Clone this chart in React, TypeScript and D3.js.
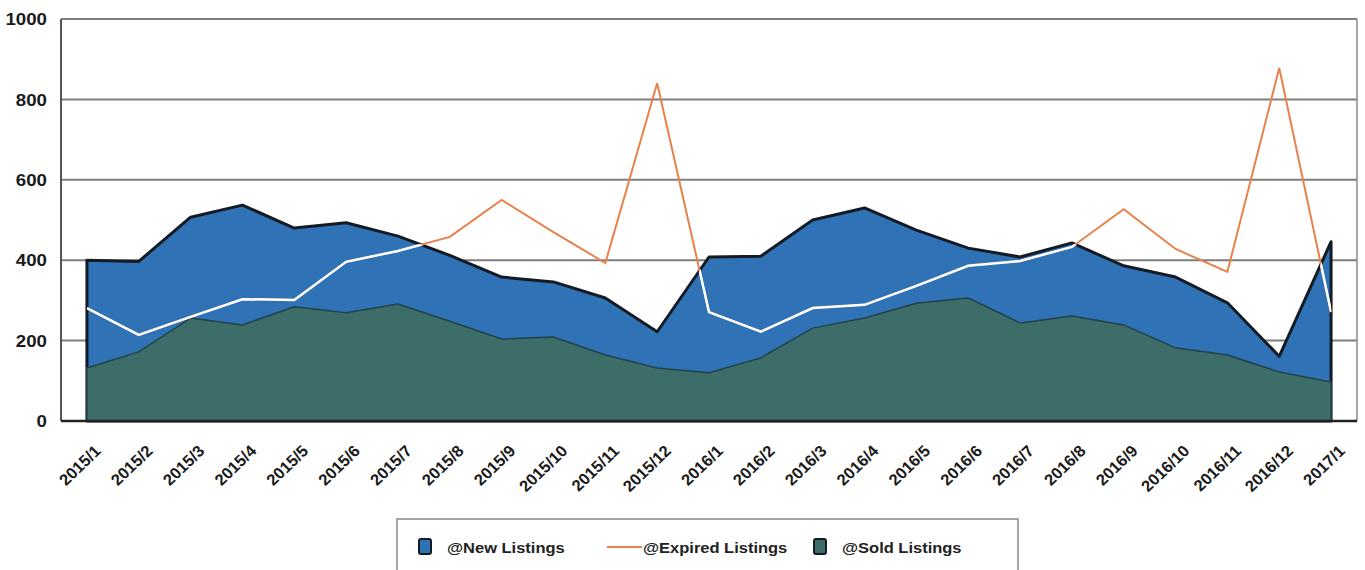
import React, { useEffect, useRef } from 'react';
import * as d3 from 'd3';

const categories = [
  '2015/1', '2015/2', '2015/3', '2015/4', '2015/5', '2015/6', '2015/7', '2015/8', '2015/9',
  '2015/10', '2015/11', '2015/12', '2016/1', '2016/2', '2016/3', '2016/4', '2016/5', '2016/6',
  '2016/7', '2016/8', '2016/9', '2016/10', '2016/11', '2016/12', '2017/1',
];
const newListings = [400, 397, 507, 537, 480, 493, 460, 412, 358, 346, 306, 222, 408, 410, 500, 530, 475, 430, 408, 443, 386, 358, 294, 161, 446];
const soldListings = [132, 172, 256, 239, 284, 269, 291, 248, 204, 209, 164, 132, 120, 157, 231, 256, 293, 306, 244, 261, 239, 182, 164, 122, 97];
const expiredListings = [281, 214, 259, 303, 301, 396, 423, 458, 550, 470, 393, 840, 271, 222, 281, 289, 336, 386, 398, 433, 527, 428, 371, 878, 271];
const yTicks = [0, 200, 400, 600, 800, 1000];

const FONT = '"Liberation Sans", Arial, sans-serif';
const BLUE = '#2f73b6';
const GREEN = '#3c6d69';
const ORANGE = '#e8814b';
const DARK = '#151b24';

const App: React.FC = () => {
  const svgRef = useRef<SVGSVGElement | null>(null);

  useEffect(() => {
    const svg = d3.select(svgRef.current);
    svg.selectAll('*').remove();

    const left = 61, right = 1357, top = 19, bottom = 421;

    const x = d3.scaleBand<string>().domain(categories).range([left, right]).padding(0);
    const cx = (i: number) => (x(categories[i]) as number) + x.bandwidth() / 2;
    const y = d3.scaleLinear().domain([0, 1000]).range([bottom, top]);

    // gridlines
    svg.append('g')
      .selectAll('line')
      .data(yTicks.filter(t => t > 0))
      .enter()
      .append('line')
      .attr('x1', left)
      .attr('x2', right)
      .attr('y1', d => y(d))
      .attr('y2', d => y(d))
      .attr('stroke', '#7d7f7e')
      .attr('stroke-width', 2);

    // right border
    svg.append('line')
      .attr('x1', right).attr('x2', right)
      .attr('y1', top).attr('y2', bottom)
      .attr('stroke', '#8a8a8a').attr('stroke-width', 1.5);

    const newArea = d3.area<number>()
      .x((_, i) => cx(i))
      .y0(y(0))
      .y1(d => y(d));

    const soldArea = d3.area<number>()
      .x((_, i) => cx(i))
      .y0(y(0))
      .y1(d => y(d));

    svg.append('defs')
      .append('clipPath')
      .attr('id', 'new-clip')
      .append('path')
      .attr('d', newArea(newListings) as string);

    svg.append('path')
      .attr('d', newArea(newListings) as string)
      .attr('fill', BLUE)
      .attr('stroke', DARK)
      .attr('stroke-width', 3)
      .attr('stroke-linejoin', 'round');

    svg.append('path')
      .attr('d', soldArea(soldListings) as string)
      .attr('fill', GREEN)
      .attr('stroke', '#24424a')
      .attr('stroke-width', 1.5)
      .attr('stroke-linejoin', 'round');

    const line = d3.line<number>()
      .x((_, i) => cx(i))
      .y(d => y(d));

    svg.append('path')
      .attr('d', line(expiredListings) as string)
      .attr('fill', 'none')
      .attr('stroke', ORANGE)
      .attr('stroke-width', 2);

    // the line shows white where it runs over the blue area
    svg.append('path')
      .attr('d', line(expiredListings) as string)
      .attr('clip-path', 'url(#new-clip)')
      .attr('fill', 'none')
      .attr('stroke', '#ffffff')
      .attr('stroke-width', 2.5);

    // axes
    svg.append('line')
      .attr('x1', left).attr('x2', left)
      .attr('y1', top).attr('y2', bottom)
      .attr('stroke', '#555').attr('stroke-width', 2);
    svg.append('line')
      .attr('x1', left).attr('x2', right)
      .attr('y1', bottom).attr('y2', bottom)
      .attr('stroke', '#222').attr('stroke-width', 2.5);

    svg.append('g')
      .selectAll('text')
      .data(yTicks)
      .enter()
      .append('text')
      .attr('transform', d => `translate(47,${y(d)}) scale(1.1,1)`)
      .attr('dy', '0.36em')
      .attr('text-anchor', 'end')
      .attr('font-family', FONT)
      .attr('font-weight', 'bold')
      .attr('font-size', 17)
      .attr('fill', '#1a1a1a')
      .text(d => d);

    svg.append('g')
      .selectAll('text')
      .data(categories)
      .enter()
      .append('text')
      .attr('transform', (_, i) => `translate(${cx(i) + 15},${bottom + 31}) scale(1.04,1) rotate(-45)`)
      .attr('text-anchor', 'end')
      .attr('font-family', FONT)
      .attr('font-weight', 'bold')
      .attr('font-size', 16)
      .attr('fill', '#1a1a1a')
      .text(d => d);

    // legend
    const lg = svg.append('g');
    lg.append('rect')
      .attr('x', 397).attr('y', 519)
      .attr('width', 621).attr('height', 70)
      .attr('fill', '#fff')
      .attr('stroke', '#8a8a8a')
      .attr('stroke-width', 1.5);

    const legendText = (xPos: number, label: string) =>
      lg.append('text')
        .attr('transform', `translate(${xPos},553) scale(1.1,1)`)
        .attr('font-family', FONT)
        .attr('font-weight', 'bold')
        .attr('font-size', 15)
        .attr('fill', '#222')
        .text(label);

    lg.append('rect')
      .attr('x', 419).attr('y', 539).attr('width', 12).attr('height', 15).attr('rx', 2)
      .attr('fill', BLUE).attr('stroke', DARK).attr('stroke-width', 2);
    legendText(447, '@New Listings');

    lg.append('line')
      .attr('x1', 607).attr('x2', 642).attr('y1', 547).attr('y2', 547)
      .attr('stroke', ORANGE).attr('stroke-width', 2);
    legendText(643, '@Expired Listings');

    lg.append('rect')
      .attr('x', 814).attr('y', 539).attr('width', 12).attr('height', 15).attr('rx', 2)
      .attr('fill', GREEN).attr('stroke', DARK).attr('stroke-width', 2);
    legendText(842, '@Sold Listings');
  }, []);

  return (
    <svg
      ref={svgRef}
      width={1365}
      height={570}
      style={{ position: 'absolute', left: 0, top: 0, background: '#fff' }}
    />
  );
};

export default App;
